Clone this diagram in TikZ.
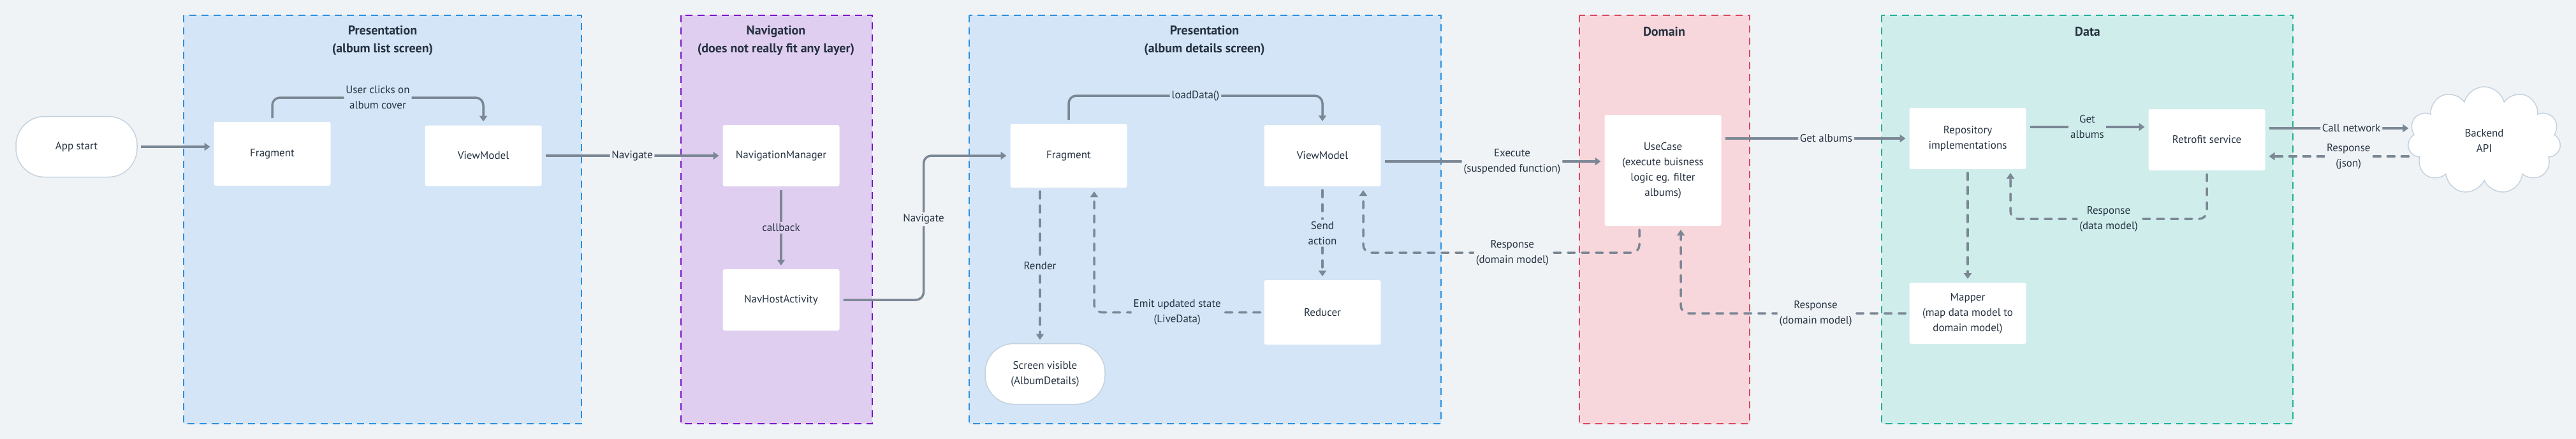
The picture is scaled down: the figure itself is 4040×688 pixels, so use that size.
\documentclass[tikz,border=0pt]{standalone}
\usepackage{fontspec}
\setmainfont{PT Sans}
\usetikzlibrary{arrows.meta,positioning,shapes.symbols}

\definecolor{bgc}{HTML}{EFF3F6}
\definecolor{presfill}{HTML}{D3E5F6}
\definecolor{presline}{HTML}{2B8FE0}
\definecolor{navfill}{HTML}{E0CEF1}
\definecolor{navline}{HTML}{7A14C8}
\definecolor{domfill}{HTML}{F7D7DC}
\definecolor{domline}{HTML}{D9485F}
\definecolor{datafill}{HTML}{CFEDEB}
\definecolor{dataline}{HTML}{21B09C}
\definecolor{arrc}{HTML}{7B8794}
\definecolor{txtc}{HTML}{263241}
\definecolor{edgec}{HTML}{C5D2DE}

\begin{document}
\begin{tikzpicture}[
    x=1pt, y=-1pt,
    every node/.style={text=txtc},
    box/.style={fill=white, rounded corners=3pt, align=center,
                font=\fontsize{17}{24}\selectfont,
                minimum width=183pt, minimum height=96pt, outer sep=6pt},
    term/.style={box, draw=edgec, line width=1.5pt, rounded corners=45pt,
                 minimum width=190pt, minimum height=95pt},
    grp/.style={line width=2pt, dash pattern=on 11pt off 8pt},
    title/.style={font=\bfseries\fontsize{20}{28}\selectfont, align=center},
    lbl/.style={font=\fontsize{17}{24}\selectfont, align=center,
                fill=bgc, inner sep=3pt},
    arr/.style={-{Triangle[length=9pt,width=12pt]}, line width=3.5pt,
                draw=arrc, rounded corners=12pt},
    darr/.style={arr, line cap=round, dash pattern=on 11pt off 11pt}
  ]
  \useasboundingbox (0,0) rectangle (4040,688);
  \fill[bgc] (0,0) rectangle (4040,688);

  % layers
  \draw[grp, fill=presfill, draw=presline] (288,24) rectangle (912,664);
  \node[title] (pres1t) at (600,64) {Presentation\\(album list screen)};
  \draw[grp, fill=navfill, draw=navline] (1068,24) rectangle (1368,664);
  \node[title] (navt) at (1217,64) {Navigation\\(does not really fit any layer)};
  \draw[grp, fill=presfill, draw=presline] (1520,24) rectangle (2260,664);
  \node[title] (pres2t) at (1889,64) {Presentation\\(album details screen)};
  \draw[grp, fill=domfill, draw=domline] (2477,24) rectangle (2744,664);
  \node[title] (domt) at (2610,50) {Domain};
  \draw[grp, fill=datafill, draw=dataline] (2951,24) rectangle (3596,664);
  \node[title] (datat) at (3274,50) {Data};

  % nodes
  \node[term] (appstart) at (120,230) {App start};
  \node[box, minimum height=100pt] (frag1) at (427,241) {Fragment};
  \node[box, minimum height=95pt] (vm1) at (758,244) {ViewModel};
  \node[box] (navmgr) at (1225,244) {NavigationManager};
  \node[box, below=118pt of navmgr] (navhost) {NavHostActivity};
  \node[box, minimum height=100pt] (frag2) at (1676,244) {Fragment};
  \node[box] (vm2) at (2074,244) {ViewModel};
  \node[box, minimum height=101pt, below=135pt of vm2] (reducer) {Reducer};
  \node[term, minimum width=188pt] (screen) at (1639,586) {Screen visible\\(AlbumDetails)};
  \node[box, minimum height=174pt] (usecase) at (2608,267)
    {UseCase\\(execute buisness\\logic eg. filter\\albums)};
  \node[box] (repo) at (3086,217) {Repository\\implementations};
  \node[box, below=166pt of repo] (mapper) {Mapper\\(map data model to\\domain model)};
  \node[box] (retrofit) at (3461,219) {Retrofit service};
  \node[cloud, cloud puffs=11, draw=edgec, fill=white, line width=1.5pt,
        minimum width=240pt, minimum height=168pt, align=center,
        font=\fontsize{17}{24}\selectfont] (backend) at (3896,220) {Backend\\API};

  % connectors
  \draw[arr] (appstart) -- (appstart -| frag1.west);
  \draw[arr] (frag1.north) -- ++(0,-32) -| node[lbl, fill=presfill, pos=0.25] (l1)
    {User clicks on\\album cover} (vm1.north);
  \draw[arr] (vm1) -- node[lbl] (l2) {Navigate} (navmgr);
  \draw[arr] (navmgr) -- node[lbl, fill=navfill] (l3) {callback} (navhost);
  \draw[arr] (navhost.east) -- ++(126,0) |- node[lbl, pos=0.28] (l4) {Navigate} (frag2.west);
  \draw[arr] (frag2.north) -- ++(0,-38) -| node[lbl, fill=presfill, pos=0.25] (l5)
    {loadData()} (vm2.north);
  \draw[darr] ([xshift=-45pt]frag2.south) -- node[lbl, fill=presfill] (l6) {Render}
    ([xshift=-45pt]frag2.south |- screen.north);
  \draw[darr] (reducer.west) -| node[lbl, fill=presfill, pos=0.25] (l7)
    {Emit updated state\\(LiveData)} ([xshift=40pt]frag2.south);
  \draw[darr] (vm2) -- node[lbl, fill=presfill] (l8) {Send\\action} (reducer);
  \draw[arr] ([yshift=-9pt]vm2.east) -- node[lbl, pos=0.59] (l9)
    {Execute\\(suspended function)} ([yshift=-9pt]vm2.east -| usecase.west);
  \draw[darr] ([xshift=-37pt]usecase.south) -- ++(0,36) -| node[lbl, pos=0.23] (l10)
    {Response\\(domain model)} ([xshift=64pt]vm2.south);
  \draw[arr] (usecase.east |- repo) -- node[lbl, pos=0.56] (l11) {Get albums} (repo.west);
  \draw[arr] ([yshift=18pt]repo.east) -- node[lbl, fill=datafill] (l12) {Get\\albums}
    ([yshift=18pt]repo.east -| retrofit.west);
  \draw[darr] (retrofit.south) -- ++(0,70) -| node[lbl, fill=datafill, pos=0.25] (l13)
    {Response\\(data model)} ([xshift=67pt]repo.south);
  \draw[darr] (repo) -- (mapper);
  \draw[darr] (mapper.west) -| node[lbl, pos=0.2] (l14)
    {Response\\(domain model)} ([xshift=28pt]usecase.south);
  \draw[arr] ([yshift=18pt]retrofit.east) -- node[lbl, pos=0.59] (l15) {Call network}
    ([yshift=18pt]retrofit.east -| backend.west);
  \draw[darr] ([yshift=-25pt]backend.west) -- node[lbl, pos=0.43] (l16) {Response\\(json)}
    ([yshift=-25pt]backend.west -| retrofit.east);
\end{tikzpicture}
\end{document}
